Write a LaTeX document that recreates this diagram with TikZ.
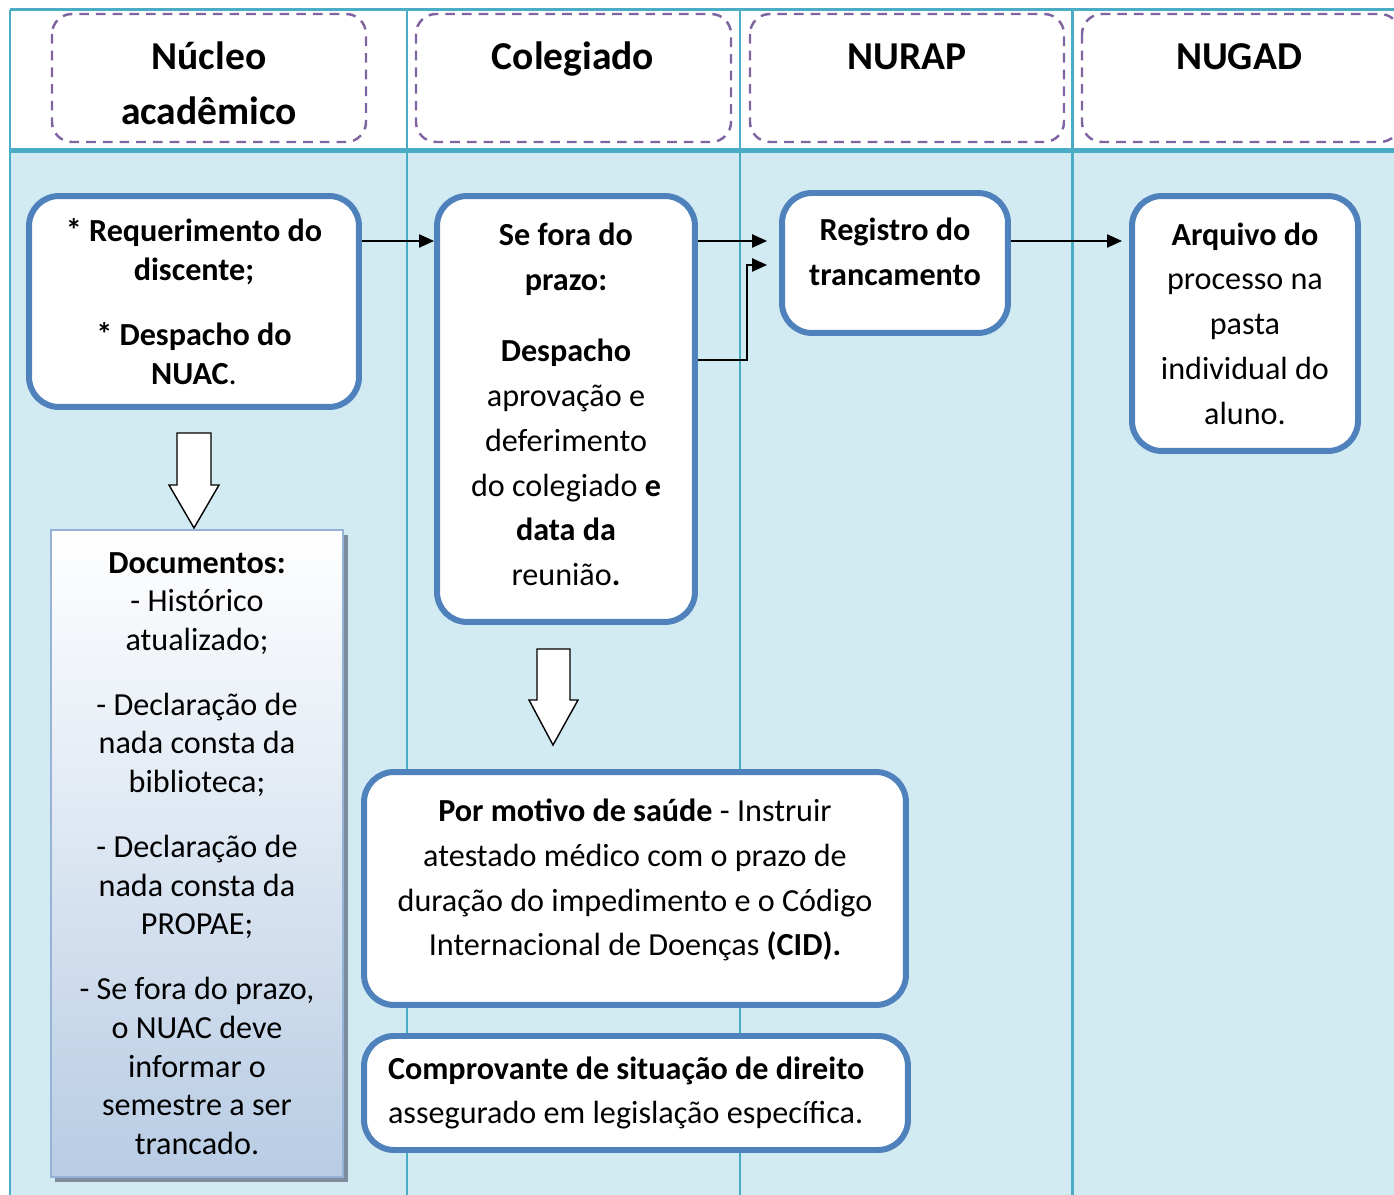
\documentclass[tikz,border=0pt]{standalone}
\usepackage{fontspec}
\setmainfont{Carlito}
\usetikzlibrary{arrows.meta}
\definecolor{laneline}{HTML}{4BACC6}
\definecolor{lanefill}{HTML}{D2EAF1}
\definecolor{boxblue}{HTML}{4F81BD}
\definecolor{headpurple}{HTML}{8064A2}
\definecolor{docblue}{HTML}{B8CCE4}
\definecolor{docline}{HTML}{95B3D7}
\definecolor{docshadow}{HTML}{7F8C9F}
\newcommand{\bodyfont}{\fontsize{18.3}{25.5}\selectfont}
\newcommand{\docfont}{\fontsize{18.3}{22}\selectfont}

\begin{document}
\begin{tikzpicture}[x=0.02cm,y=-0.02cm,
    head/.style={draw=headpurple,line width=1.4pt,dash pattern=on 5.5pt off 4pt,rounded corners=0.4cm},
    headtext/.style={font=\fontsize{22.5}{31}\selectfont\bfseries,align=center},
    stepbox/.style={draw=boxblue,line width=3.4pt,fill=white,rounded corners=0.6cm,align=center,font=\bodyfont},
    boxtext/.style={align=center,font=\bodyfont},
    conn/.style={line width=0.85pt,-{Triangle[length=8.5pt,width=7.5pt]}},
    bigarrow/.style={draw=black,line width=0.8pt,fill=white}]
  \useasboundingbox (0,0) rectangle (1394,1195);
  \fill[white] (0,0) rectangle (1394,1195);
  \fill[lanefill] (10,151) rectangle (1394,1195);
  \draw[laneline,line width=1.7pt] (10,10) -- (1394,10);
  \draw[laneline,line width=2.8pt] (10,150.5) -- (1394,150.5);
  \foreach \x in {10,407,740,1072}
    \draw[laneline,line width=1.7pt] (\x,10) -- (\x,1195);

  \draw[head] (52,14) rectangle (366,142);
  \draw[head] (416,14) rectangle (731,142);
  \draw[head] (750,14) rectangle (1064,142);
  \draw[head] (1082,14) rectangle (1400,142);
  \node[headtext] (hnuc) at (209,83.5) {Núcleo\\acadêmico};
  \node[headtext] (hcol) at (573,58.5) {Colegiado};
  \node[headtext] (hnurap) at (907,57) {NURAP};
  \node[headtext] (hnugad) at (1239,57) {NUGAD};

  \node[stepbox,font=\docfont,minimum width=6.6cm,minimum height=4.22cm] (req) at (194,301.5)
    {\textbf{* Requerimento do}\\\textbf{discente;}\\[15pt]\textbf{* Despacho do}\\\textbf{NUAC}.};
  \node[stepbox,minimum width=5.16cm,minimum height=8.52cm] (prazo) at (566,409) {};
  \node[boxtext] (prazotxt) at (566,404.5)
    {\textbf{Se fora do}\\\textbf{prazo:}\\[15pt]\textbf{Despacho}\\aprovação e\\deferimento\\do colegiado \textbf{e}\\\textbf{data da}\\reunião\textbf{.}};
  \node[stepbox,minimum width=4.52cm,minimum height=2.8cm] (reg) at (895,263) {};
  \node[boxtext,font=\bodyfont\bfseries] (regtxt) at (895,251.5) {Registro do\\trancamento};
  \node[stepbox,minimum width=4.52cm,minimum height=5.1cm] (arq) at (1245,323.5)
    {\textbf{Arquivo do}\\processo na\\pasta\\individual do\\aluno.};
  \node[stepbox,minimum width=10.84cm,minimum height=4.66cm] (saude) at (635,888.5) {};
  \node[boxtext] (saudetxt) at (635,880)
    {\textbf{Por motivo de saúde} - Instruir\\atestado médico com o prazo de\\duração do impedimento e o Código\\Internacional de Doenças \textbf{(CID).}};
  \node[stepbox,align=flush left,text width=9.92cm,minimum width=10.88cm,minimum height=2.28cm] (direito) at (636,1093)
    {\textbf{Comprovante de situação de direito}\\assegurado em legislação específica.};

  \fill[docshadow] (55,535) rectangle (348,1182);
  \node[draw=docline,line width=1.1pt,top color=white,bottom color=docblue,minimum width=5.84cm,minimum height=12.94cm,align=center,font=\docfont] (docs) at (197,853.5)
    {\textbf{Documentos:}\\- Histórico\\atualizado;\\[15pt]- Declaração de\\nada consta da\\biblioteca;\\[15pt]- Declaração de\\nada consta da\\PROPAE;\\[15pt]- Se fora do prazo,\\o NUAC deve\\informar o\\semestre a ser\\trancado.};

  \draw[bigarrow] (177,433) -- (211,433) -- (211,485) -- (219,485) -- (194,528) -- (169,485) -- (177,485) -- cycle;
  \draw[bigarrow] (537,649) -- (570,649) -- (570,700) -- (578,700) -- (553,745) -- (529,700) -- (537,700) -- cycle;

  \coordinate (rowa) at (0,241);
  \coordinate (rowb) at (0,265);
  \coordinate (rowc) at (0,360);
  \coordinate (bend) at (747,265);
  \draw[conn] (req.east |- rowa) -- (prazo.west |- rowa);
  \draw[conn,shorten >=6.8pt] (prazo.east |- rowa) -- (reg.west |- rowa);
  \draw[conn,shorten >=6.8pt] (prazo.east |- rowc) -| (bend) -- (reg.west |- rowb);
  \draw[conn,shorten >=4pt] (reg.east |- rowa) -- (arq.west |- rowa);
\end{tikzpicture}
\end{document}
